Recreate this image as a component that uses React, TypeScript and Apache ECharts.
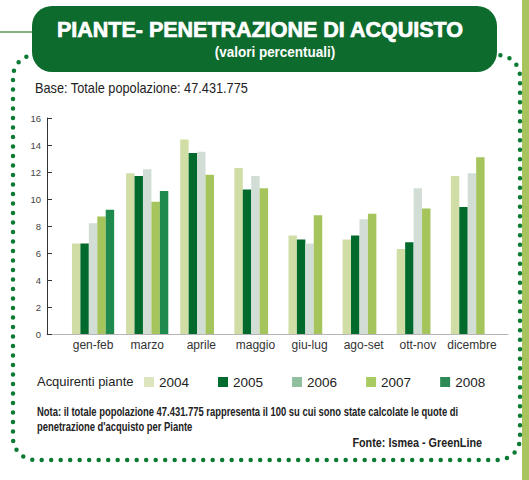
import React, { useEffect, useRef } from "react";
import * as echarts from "echarts";

const categories = ["gen-feb", "marzo", "aprile", "maggio", "giu-lug", "ago-set", "ott-nov", "dicembre"];
const years = ["2004", "2005", "2006", "2007", "2008"];
const v2004 = [6.7, 11.9, 14.4, 12.3, 7.3, 7.0, 6.3, 11.7];
const v2005 = [6.7, 11.7, 13.4, 10.7, 7.0, 7.3, 6.8, 9.4];
const v2006 = [8.2, 12.2, 13.5, 11.7, 6.7, 8.5, 10.8, 11.9];
const v2007 = [8.7, 9.8, 11.8, 10.8, 8.8, 8.9, 9.3, 13.1];
const v2008 = [9.2, 10.6, null, null, null, null, null, null];
const seriesValues = [v2004, v2005, v2006, v2007, v2008];
const yMin = 0;
const yMax = 16;
const yStep = 2;

const barColors = ["#d0dea6", "#006a2c", "#d2ddd5", "#a5c45c", "#1f8a4d"];
const legendColors = ["#dce5bd", "#006b2e", "#8fbf9d", "#a9cc62", "#2e8b57"];

const SANS = "'Liberation Sans', Arial, sans-serif";

export default function App() {
  const ref = useRef<HTMLDivElement>(null);
  useEffect(() => {
    if (!ref.current) return;
    const chart = echarts.init(ref.current, undefined, { renderer: "svg" });
    const option: any = {
      animation: false,
      backgroundColor: "#ffffff",
      grid: [
        { left: 47, top: 118, width: 461, height: 216 },
        { left: 66, top: 118, width: 433, height: 216 },
      ],
      xAxis: [
        {
          gridIndex: 0,
          type: "value",
          min: 0,
          max: 1,
          axisLine: { show: true, onZero: false, lineStyle: { color: "#b5b5b5", width: 1 } },
          axisTick: { show: false },
          axisLabel: { show: false },
          splitLine: { show: false },
        },
        {
          gridIndex: 1,
          type: "category",
          data: categories,
          axisLine: { show: false },
          axisTick: { show: false },
          axisLabel: { interval: 0, margin: 5, fontFamily: SANS, fontSize: 12, color: "#333" },
          splitLine: { show: false },
        },
      ],
      yAxis: [
        {
          gridIndex: 0,
          type: "value",
          min: yMin,
          max: yMax,
          interval: yStep,
          axisLine: { show: true, lineStyle: { color: "#333", width: 1 } },
          axisTick: { show: true, inside: true, length: 5, lineStyle: { color: "#333" } },
          axisLabel: { margin: 6, fontFamily: SANS, fontSize: 9.5, color: "#444" },
          splitLine: { show: false },
        },
        {
          gridIndex: 1,
          type: "value",
          min: yMin,
          max: yMax,
          interval: yStep,
          show: false,
        },
      ],
      legend: {
        left: 144,
        top: 375,
        padding: 0,
        itemWidth: 10,
        itemHeight: 10,
        itemGap: 29,
        icon: "rect",
        textStyle: { fontFamily: SANS, fontSize: 13.5, color: "#222" },
        data: years.map((y, i) => ({ name: y, itemStyle: { color: legendColors[i] } })),
      },
      series: years.map((y, i) => ({
        name: y,
        type: "bar",
        xAxisIndex: 1,
        yAxisIndex: 1,
        data: seriesValues[i],
        barGap: "0%",
        barCategoryGap: "22%",
        itemStyle: { color: barColors[i] },
      })),
      graphic: [
        {
          type: "rect",
          z: 0,
          shape: { x: 522, y: 0, width: 7, height: 480 },
          style: { fill: "#a8c45e" },
        },
        {
          type: "line",
          z: 1,
          shape: { x1: 0, y1: 32, x2: 40, y2: 32 },
          style: { stroke: "#5b9a4e", lineWidth: 1.5 },
        },
        {
          type: "rect",
          z: 1,
          shape: { x: 13, y: 55, width: 507, height: 405, r: 22 },
          style: {
            fill: "none",
            stroke: "#0b7a32",
            lineWidth: 4.5,
            lineDash: [0, 9.5],
            lineCap: "round",
          },
        },
        {
          type: "rect",
          z: 2,
          shape: { x: 32, y: 6, width: 465, height: 66, r: 20 },
          style: { fill: "#0e6b2e" },
        },
        {
          type: "text",
          z: 3,
          x: 260,
          y: 30,
          style: {
            text: "PIANTE- PENETRAZIONE DI ACQUISTO",
            fill: "#ffffff",
            stroke: "#ffffff",
            lineWidth: 0.7,
            font: `bold 21.5px ${SANS}`,
            align: "center",
            verticalAlign: "middle",
          },
        },
        {
          type: "text",
          z: 3,
          x: 275,
          y: 52,
          scaleX: 0.9,
          style: {
            text: "(valori percentuali)",
            fill: "#ffffff",
            font: `bold 15px ${SANS}`,
            align: "center",
            verticalAlign: "middle",
          },
        },
        {
          type: "text",
          z: 3,
          x: 35,
          y: 88,
          scaleX: 0.91,
          style: {
            text: "Base: Totale popolazione: 47.431.775",
            fill: "#222",
            font: `14px ${SANS}`,
            verticalAlign: "middle",
          },
        },
        {
          type: "text",
          z: 3,
          x: 37,
          y: 381,
          scaleX: 0.96,
          style: {
            text: "Acquirenti piante",
            fill: "#222",
            font: `13.5px ${SANS}`,
            verticalAlign: "middle",
          },
        },
        {
          type: "text",
          z: 3,
          x: 37,
          y: 412,
          scaleX: 0.785,
          style: {
            text: "Nota: il totale popolazione 47.431.775 rappresenta il 100 su cui sono state calcolate le quote di",
            fill: "#222",
            font: `bold 12px ${SANS}`,
            verticalAlign: "middle",
          },
        },
        {
          type: "text",
          z: 3,
          x: 37,
          y: 427,
          scaleX: 0.785,
          style: {
            text: "penetrazione d'acquisto per Piante",
            fill: "#222",
            font: `bold 12px ${SANS}`,
            verticalAlign: "middle",
          },
        },
        {
          type: "text",
          z: 3,
          x: 482,
          y: 443,
          scaleX: 0.8,
          style: {
            text: "Fonte: Ismea - GreenLine",
            fill: "#222",
            font: `bold 13.5px ${SANS}`,
            align: "right",
            verticalAlign: "middle",
          },
        },
      ],
    };
    chart.setOption(option);
    return () => chart.dispose();
  }, []);
  return (
    <div
      ref={ref}
      style={{ position: "fixed", left: 0, top: 0, width: 529, height: 480 }}
    />
  );
}
